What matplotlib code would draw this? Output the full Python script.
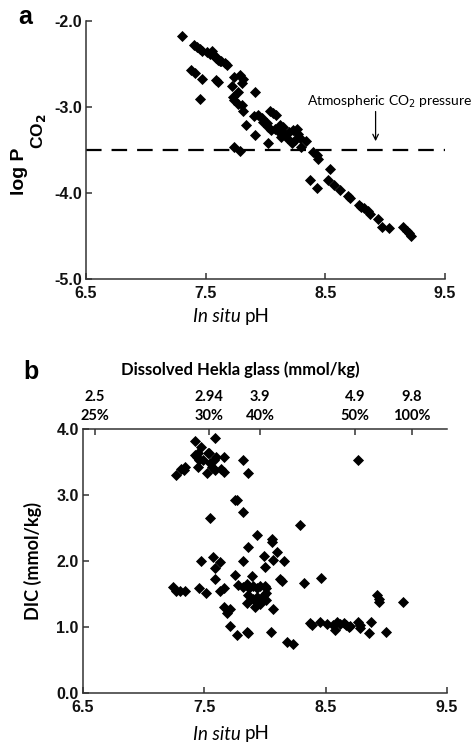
import matplotlib
matplotlib.use("Agg")
import matplotlib.pyplot as plt
from matplotlib.font_manager import FontProperties

# ---------------- data ----------------
# Panel a: in situ pH vs log PCO2
ph_a = [7.30, 7.40, 7.43, 7.45, 7.47, 7.51, 7.54, 7.55, 7.56, 7.58, 7.59, 7.60, 7.62, 7.63,
        7.66, 7.68, 7.38, 7.41, 7.47, 7.59, 7.60, 7.45, 7.74, 7.79, 7.81, 7.72, 7.80, 7.77,
        7.91, 7.73, 7.74, 7.77, 7.80, 7.81, 7.84, 7.91, 7.74, 7.79,
        7.90, 7.94, 7.97, 7.98, 8.01, 8.04, 8.06, 8.09, 8.02, 8.05, 8.08, 8.11, 8.12, 8.15,
        8.16, 8.13, 8.18, 8.20, 8.23, 8.26, 8.27, 8.25, 8.22, 8.29, 8.34, 8.30, 8.02,
        8.40, 8.43, 8.44, 8.54, 8.37, 8.43, 8.52, 8.57, 8.62, 8.69, 8.71, 8.78, 8.80, 8.82,
        8.86, 8.87, 8.94, 8.97, 9.03, 9.15, 9.18, 9.20, 9.22]
logp_a = [-2.18, -2.28, -2.30, -2.32, -2.35, -2.36, -2.38, -2.35, -2.40, -2.41, -2.43, -2.45,
          -2.46, -2.47, -2.49, -2.51, -2.57, -2.61, -2.67, -2.69, -2.71, -2.91, -2.65, -2.63,
          -2.67, -2.76, -2.72, -2.82, -2.82, -2.88, -2.92, -2.96, -2.98, -3.05, -3.21, -3.33,
          -3.46, -3.51,
          -3.11, -3.09, -3.13, -3.17, -3.19, -3.05, -3.07, -3.09, -3.23, -3.27, -3.25, -3.29,
          -3.21, -3.23, -3.31, -3.35, -3.36, -3.29, -3.27, -3.25, -3.31, -3.38, -3.42, -3.36,
          -3.40, -3.46, -3.42,
          -3.52, -3.56, -3.60, -3.72, -3.85, -3.94, -3.85, -3.91, -3.96, -4.03, -4.06, -4.14,
          -4.16, -4.18, -4.21, -4.24, -4.30, -4.40, -4.41, -4.39, -4.44, -4.47, -4.50]

atm_log_pco2 = -3.5

# Panel b: in situ pH vs DIC
ph_b = [7.27, 7.31, 7.34, 7.33, 7.42, 7.42, 7.44, 7.45, 7.46, 7.45, 7.47, 7.49, 7.52, 7.53,
        7.55, 7.56, 7.58, 7.59, 7.60, 7.59, 7.54, 7.66, 7.64, 7.66, 7.82, 7.86, 7.75, 7.77,
        7.82, 7.55, 8.29, 8.77,
        7.93, 7.86, 8.06, 8.06, 8.10, 7.99, 8.00, 7.82, 8.07, 8.16, 7.47, 7.57, 7.59, 7.63,
        7.59, 7.75, 7.89, 8.12, 8.14, 8.32, 8.46,
        7.24, 7.27, 7.30, 7.34, 7.46, 7.51, 7.63, 7.66,
        7.78, 7.82, 7.85, 7.87, 7.90, 7.93, 7.96, 8.00, 8.01,
        7.86, 7.90, 7.93, 7.95, 7.97, 7.99, 8.01, 7.85, 7.92, 7.96, 8.01, 8.07,
        7.66, 7.69, 7.71, 7.71, 7.77, 7.85, 7.86, 8.05, 8.18, 8.23,
        8.37, 8.39, 8.45, 8.51, 8.56, 8.58, 8.59, 8.62, 8.65, 8.67, 8.69, 8.70,
        8.77, 8.78, 8.78, 8.87, 8.86, 9.00, 8.92, 8.94, 8.94, 9.14]
dic_b = [3.31, 3.40, 3.43, 3.38, 3.82, 3.61, 3.58, 3.63, 3.53, 3.43, 3.73, 3.53, 3.33, 3.63,
         3.48, 3.43, 3.53, 3.38, 3.58, 3.87, 3.64, 3.57, 3.40, 3.35, 3.53, 3.34, 2.93, 2.92,
         2.75, 2.65, 2.55, 3.53,
         2.39, 2.21, 2.34, 2.29, 2.14, 2.08, 1.91, 2.00, 2.02, 2.00, 2.00, 2.06, 1.89, 1.99,
         1.72, 1.79, 1.77, 1.72, 1.69, 1.66, 1.74,
         1.60, 1.54, 1.55, 1.54, 1.59, 1.52, 1.54, 1.59,
         1.64, 1.61, 1.65, 1.59, 1.62, 1.59, 1.62, 1.62, 1.59,
         1.48, 1.43, 1.46, 1.38, 1.41, 1.48, 1.51, 1.37, 1.30, 1.35, 1.41, 1.27,
         1.31, 1.21, 1.27, 1.01, 0.88, 0.93, 0.91, 0.93, 0.78, 0.74,
         1.06, 1.03, 1.07, 1.05, 1.03, 0.95, 1.08, 1.05, 1.06, 1.03, 1.00, 1.01,
         1.08, 1.03, 0.98, 1.08, 0.91, 0.92, 1.48, 1.43, 1.38, 1.38]

top_tick_ph = [6.60, 7.54, 7.96, 8.74, 9.21]
top_tick_glass = ["2.5", "2.94", "3.9", "4.9", "9.8"]
top_tick_pct = ["25%", "30%", "40%", "50%", "100%"]

x_ticks = [6.5, 7.5, 8.5, 9.5]
ya_ticks = [-2.0, -3.0, -4.0, -5.0]
yb_ticks = [0.0, 1.0, 2.0, 3.0, 4.0]

# ---------------- figure ----------------
W, H = 474, 746
fig = plt.figure(figsize=(W / 100, H / 100), dpi=100)

spine_col = "#333333"
tick_fp = FontProperties(family="Liberation Sans", weight="bold", size=11.5)
cal = ["Lato", "DejaVu Sans"]

def style_axes(ax, top=False):
    for s in ["left", "bottom", "top", "right"]:
        ax.spines[s].set_color(spine_col)
        ax.spines[s].set_linewidth(1.1)
    ax.spines["right"].set_visible(False)
    ax.spines["top"].set_visible(top)
    ax.tick_params(direction="in", length=4, width=1.1, color=spine_col,
                   top=False, right=False)

def set_ticks(ax, xt, yt):
    ax.set_xticks(xt)
    ax.set_xticklabels([f"{v:.1f}" for v in xt], fontproperties=tick_fp, color="#111111")
    ax.set_yticks(yt)
    ax.set_yticklabels([f"{v:.1f}" for v in yt], fontproperties=tick_fp, color="#111111")
    ax.tick_params(axis="x", pad=5)
    ax.tick_params(axis="y", pad=3)

MS = 32

# Panel a
axa = fig.add_axes([86 / W, 1 - 279 / H, (445 - 86) / W, (279 - 21) / H])
axa.scatter(ph_a, logp_a, marker="D", s=MS, color="black", linewidths=0, zorder=3)
axa.axhline(atm_log_pco2, color="black", lw=1.6, dashes=(7, 4.5))
axa.set_xlim(6.5, 9.5)
axa.set_ylim(-5.0, -2.0)
set_ticks(axa, x_ticks, ya_ticks)
style_axes(axa)
axa.annotate("", xy=(8.92, -3.43), xytext=(8.92, -3.02),
             arrowprops=dict(arrowstyle="->", color="black", lw=0.9))
axa.text(9.04, -2.94, r"Atmospheric CO$_2$ pressure", fontsize=10, family=cal,
         ha="center", va="center", clip_on=False)
fig.text(19 / W, 1 - 171 / H, "log P", fontsize=14, fontweight="bold",
         family="Liberation Sans", rotation=90, ha="center", va="center")
fig.text(38 / W, 1 - 131 / H, r"CO$_\mathbf{2}$", fontsize=12.5, fontweight="bold",
         family="Liberation Sans", rotation=90, ha="center", va="center")
fig.text(25 / W, 1 - 17 / H, "a", fontsize=18, fontweight="bold",
         family="Liberation Sans", ha="center", va="center")

# Panel b
axb = fig.add_axes([83 / W, 1 - 693 / H, (447 - 83) / W, (693 - 429) / H])
axb.scatter(ph_b, dic_b, marker="D", s=MS, color="black", linewidths=0, zorder=3)
axb.set_xlim(6.5, 9.5)
axb.set_ylim(0.0, 4.0)
set_ticks(axb, x_ticks, yb_ticks)
style_axes(axb, top=True)
fig.text(33 / W, 1 - 561 / H, "DIC (mmol/kg)", fontsize=13, fontweight="bold",
         family=cal, rotation=90, ha="center", va="center")

top = axb.secondary_xaxis("top")
top.set_xticks(top_tick_ph)
top.set_xticklabels([f"{g}\n{p}" for g, p in zip(top_tick_glass, top_tick_pct)],
                    family=cal, fontweight="bold", fontsize=10.5, linespacing=1.45)
top.tick_params(direction="in", length=4, width=1.1, color=spine_col, pad=4)
top.spines["top"].set_visible(False)
fig.text(240 / W, 1 - 370 / H, "Dissolved Hekla glass (mmol/kg)", fontsize=12,
         fontweight="bold", family=cal, ha="center", va="center")
fig.text(31 / W, 1 - 372 / H, "b", fontsize=18, fontweight="bold",
         family="Liberation Sans", ha="center", va="center")

# x labels with italic part
for ypix in [316, 734]:
    fig.text(241 / W, 1 - ypix / H, "In situ", fontsize=13.5, family=cal, style="italic",
             ha="right", va="center")
    fig.text(245 / W, 1 - ypix / H, "pH", fontsize=13.5, family=cal,
             ha="left", va="center")

fig.savefig("out.png", dpi=100)
